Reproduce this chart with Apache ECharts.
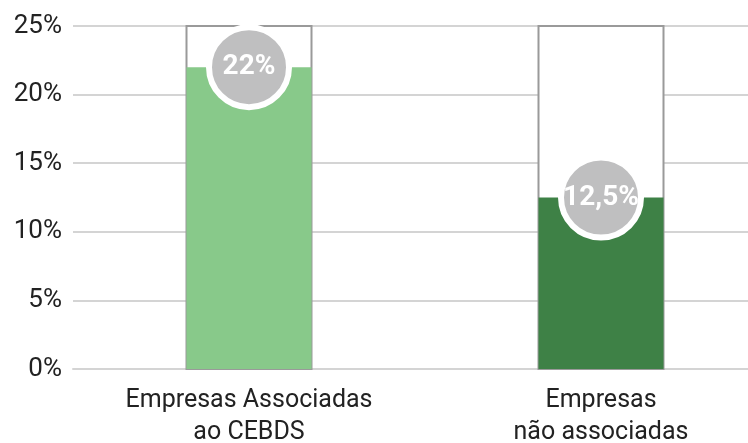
<!DOCTYPE html>
<html>
<head>
<meta charset="utf-8">
<script src="https://cdn.jsdelivr.net/npm/echarts@6/dist/echarts.min.js"></script>
<style>
  html, body { margin: 0; padding: 0; background: #fff; }
  #chart { width: 748px; height: 443px; }
</style>
</head>
<body>
<div id="chart"></div>
<script>
    // dados
    var categories = ['Empresas Associadas\nao CEBDS', 'Empresas\nnão associadas'];
    var values = [22, 12.5];
    var labels = ['22%', '12,5%'];
    var barColors = ['#88c98a', '#3e8146'];
    var yTicks = [0, 5, 10, 15, 20, 25];

    var chart = echarts.init(document.getElementById('chart'));

    var options = {
        animation: false,
        grid: {
            left: 73,
            top: 26,
            width: 704,
            height: 343,
            containLabel: false,
            outerBoundsMode: 'none'
        },
        xAxis: {
            type: 'category',
            data: categories,
            axisLine: { show: true, lineStyle: { color: '#d4d4d4', width: 2 } },
            axisTick: { show: false },
            axisLabel: {
                color: '#222',
                fontSize: 25,
                fontFamily: 'Roboto',
                lineHeight: 32,
                margin: 16
            }
        },
        yAxis: {
            type: 'value',
            min: yTicks[0],
            max: yTicks[yTicks.length - 1],
            interval: 5,
            axisLine: { show: false },
            axisTick: { show: false },
            splitLine: { lineStyle: { color: '#d4d4d4', width: 2 } },
            axisLabel: {
                color: '#222',
                fontSize: 26,
                fontFamily: 'Roboto',
                margin: 11,
                formatter: '{value}%'
            }
        },
        series: [
            {
                type: 'bar',
                barWidth: 125,
                data: values.map(function (v, i) {
                    return { value: v, itemStyle: { color: barColors[i] } };
                }),
                showBackground: true,
                backgroundStyle: {
                    color: '#fff',
                    borderColor: '#9a9a9a',
                    borderWidth: 2
                },
                z: 2
            },
            {
                type: 'scatter',
                symbol: 'circle',
                symbolSize: 80,
                data: values,
                itemStyle: {
                    color: '#bfbfc0',
                    borderColor: '#fff',
                    borderWidth: 6,
                    opacity: 1
                },
                label: {
                    show: true,
                    position: 'inside',
                    color: '#fff',
                    fontSize: 28,
                    fontWeight: 'bold',
                    fontFamily: 'Roboto',
                    formatter: function (p) { return labels[p.dataIndex]; }
                },
                z: 5
            }
        ]
    };
    chart.setOption(options);
</script>
</body>
</html>
